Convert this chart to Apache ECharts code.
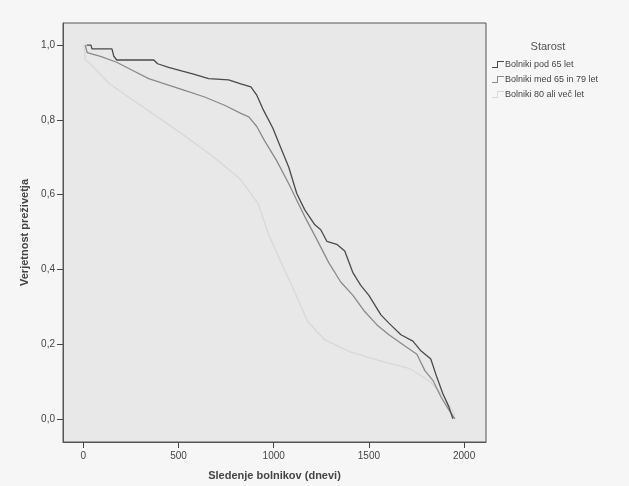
<!DOCTYPE html>
<html>
<head>
<meta charset="utf-8">
<script src="https://cdn.jsdelivr.net/npm/echarts@6/dist/echarts.min.js"></script>
<style>
  html, body { margin: 0; padding: 0; background: #f6f6f6; }
  #chart { width: 629px; height: 486px; }
</style>
</head>
<body>
<div id="chart"></div>
<script>
// krivulje prezivetja (dni, verjetnost) odcitane s slike
const pod65 = [[17,1.0],[40,1.0],[45,0.99],[150,0.99],[160,0.97],[175,0.96],[370,0.96],[390,0.95],[448,0.94],[520,0.93],[574,0.923],[658,0.91],[763,0.907],[827,0.896],[880,0.888],[911,0.866],[942,0.83],[995,0.778],[1037,0.725],[1079,0.673],[1121,0.603],[1163,0.559],[1216,0.519],[1247,0.506],[1279,0.475],[1331,0.467],[1373,0.449],[1415,0.392],[1457,0.357],[1499,0.331],[1563,0.278],[1605,0.256],[1668,0.225],[1731,0.208],[1773,0.182],[1825,0.16],[1857,0.111],[1888,0.068],[1920,0.032],[1941,0.0]];
const med65in79 = [[10,1.0],[20,0.98],[90,0.97],[175,0.954],[259,0.932],[343,0.91],[427,0.896],[532,0.879],[637,0.861],[742,0.839],[827,0.817],[869,0.808],[911,0.782],[953,0.743],[1016,0.69],[1079,0.629],[1121,0.585],[1163,0.541],[1226,0.48],[1289,0.418],[1352,0.366],[1415,0.331],[1478,0.287],[1541,0.252],[1605,0.225],[1689,0.195],[1752,0.173],[1794,0.129],[1836,0.103],[1878,0.059],[1920,0.024],[1952,0.0]];
const nad80 = [[4,1.0],[10,0.96],[25,0.955],[140,0.895],[298,0.84],[482,0.775],[666,0.708],[823,0.642],[918,0.576],[970,0.497],[1033,0.425],[1111,0.338],[1180,0.259],[1269,0.211],[1401,0.179],[1558,0.155],[1716,0.134],[1821,0.1],[1900,0.055],[1952,0.01]];

const seriesNames = ['Bolniki pod 65 let', 'Bolniki med 65 in 79 let', 'Bolniki 80 ali več let'];
const xTicks = [0, 500, 1000, 1500, 2000];
const yTicks = [0, 0.2, 0.4, 0.6, 0.8, 1.0];

const colors = ['#4a4a4a', '#8a8a8a', '#d8d8d8'];
const stepIcon = 'path://M0,6 L5,6 L5,0 L12,0 L12,1 L6,1 L6,7 L0,7 Z';

let myChart = echarts.init(document.getElementById('chart'));
const font = 'Liberation Sans';

let option = {
    backgroundColor: '#f6f6f6',
    animation: false,
    title: {
        text: 'Starost',
        left: 543,
        top: 36,
        textAlign: 'center',
        textStyle: { fontFamily: font, fontSize: 11, fontWeight: 'normal', color: '#555' }
    },
    legend: {
        orient: 'vertical',
        left: 487,
        top: 55,
        itemWidth: 12,
        itemHeight: 7,
        itemGap: 6,
        data: seriesNames.map(n => ({ name: n, icon: stepIcon })),
        textStyle: { fontFamily: font, fontSize: 9, color: '#444', padding: [0, 0, 0, -4] }
    },
    grid: {
        left: 63, top: 23, right: 143, bottom: 40,
        show: true,
        backgroundColor: '#e8e8e8',
        borderColor: '#555',
        borderWidth: 1
    },
    xAxis: {
        type: 'value',
        min: -107,
        max: 2115,
        name: 'Sledenje bolnikov (dnevi)',
        nameLocation: 'middle',
        nameGap: 28,
        nameTextStyle: { fontFamily: font, fontSize: 11, fontWeight: 'bold', color: '#444' },
        splitLine: { show: false },
        axisLine: { show: true, onZero: false, lineStyle: { color: '#555' } },
        axisTick: { show: true, length: 6, customValues: xTicks, lineStyle: { color: '#444' } },
        axisLabel: {
            customValues: xTicks, fontFamily: font, fontSize: 10, color: '#444', margin: 9,
            formatter: v => String(v)
        }
    },
    yAxis: {
        type: 'value',
        min: -0.062,
        max: 1.059,
        name: 'Verjetnost preživetja',
        nameLocation: 'middle',
        nameGap: 33,
        nameTextStyle: { fontFamily: font, fontSize: 11, fontWeight: 'bold', color: '#444' },
        splitLine: { show: false },
        axisLine: { show: true, onZero: false, lineStyle: { color: '#555' } },
        axisTick: { show: true, length: 6, customValues: yTicks, lineStyle: { color: '#444' } },
        axisLabel: {
            customValues: yTicks, fontFamily: font, fontSize: 10, color: '#444', margin: 8,
            formatter: v => v.toFixed(1).replace('.', ',')
        }
    },
    series: [
        { name: seriesNames[0], type: 'line', data: pod65, showSymbol: false, color: colors[0], lineStyle: { width: 1.3 }, z: 4 },
        { name: seriesNames[1], type: 'line', data: med65in79, showSymbol: false, color: colors[1], lineStyle: { width: 1.3 }, z: 3 },
        { name: seriesNames[2], type: 'line', data: nad80, showSymbol: false, color: colors[2], lineStyle: { width: 1.3 }, z: 2 }
    ]
};
myChart.setOption(option);
</script>
</body>
</html>
